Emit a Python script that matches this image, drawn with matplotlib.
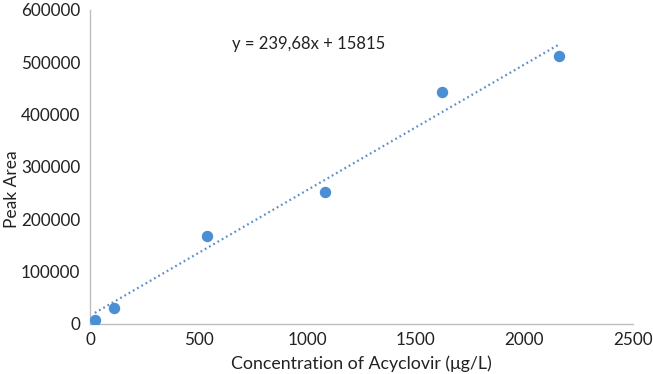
import matplotlib
matplotlib.use('Agg')
import matplotlib.pyplot as plt
import numpy as np

# concentration (ug/L) and peak area
conc = [21.6, 108, 540, 1080, 1620, 2160]
area = [8000, 30300, 168200, 251900, 442000, 512500]

# trendline coefficients printed on the chart
slope = 239.68
intercept = 15815
eq_label = 'y = 239,68x + 15815'

x_ticks = [0, 500, 1000, 1500, 2000, 2500]
y_ticks = [0, 100000, 200000, 300000, 400000, 500000, 600000]

plt.rcParams['font.family'] = ['Lato', 'DejaVu Sans']

fig = plt.figure(figsize=(6.53, 3.74), dpi=100)
ax = fig.add_axes([0.138, 0.134, 0.831, 0.84])

blue = '#4a8fd6'
ax.plot(conc, area, 'o', color=blue, markersize=7.2, zorder=3)

xs = np.array([min(conc), max(conc)])
ax.plot(xs, slope * xs + intercept, color='#5b8fc7', lw=1.6,
        linestyle=(0, (0.8, 1.4)), zorder=2)

ax.annotate(eq_label, xy=(232, 374 - 44), xycoords='figure pixels',
            fontsize=12, va='center', ha='left', color='#222222')

ax.set_xlim(0, 2500)
ax.set_ylim(0, 600000)
ax.set_xticks(x_ticks)
ax.set_yticks(y_ticks)
ax.tick_params(length=0, labelsize=12.3, colors='#222222', pad=7)
ax.tick_params(axis='x', pad=6)

for side in ['top', 'right']:
    ax.spines[side].set_visible(False)
for side in ['left', 'bottom']:
    ax.spines[side].set_color('#bfbfbf')
    ax.spines[side].set_linewidth(1.0)

ax.set_xlabel('Concentration of Acyclovir (μg/L)', fontsize=12.8, color='#222222', labelpad=5)
ax.set_ylabel('Peak Area', fontsize=12.5, color='#222222', va='center')
ax.yaxis.set_label_coords(-0.144, 0.43)

fig.savefig('out.png', dpi=100)
